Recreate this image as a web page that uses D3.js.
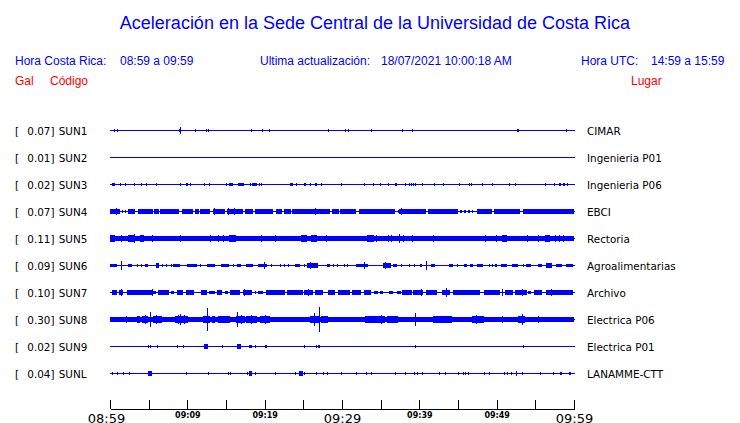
<!DOCTYPE html>
<html>
<head>
<meta charset="utf-8">
<script src="https://cdn.jsdelivr.net/npm/d3@7"></script>
<style>
  html, body { margin: 0; padding: 0; background: #fff; }
  svg { display: block; }
</style>
</head>
<body>
<div id="chart"></div>
<script>
// ---------- data ----------
const title = "Aceleración en la Sede Central de la Universidad de Costa Rica";
const localRange = "08:59 a 09:59";
const utcRange = "14:59 a 15:59";
const updated = "18/07/2021 10:00:18 AM";

const codes  = ["SUN1","SUN2","SUN3","SUN4","SUN5","SUN6","SUN7","SUN8","SUN9","SUNL"];
const peaks  = [0.07, 0.01, 0.02, 0.07, 0.11, 0.09, 0.10, 0.30, 0.02, 0.04];
const places = ["CIMAR","Ingenieria P01","Ingenieria P06","EBCI","Rectoria",
                "Agroalimentarias","Archivo","Electrica P06","Electrica P01","LANAMME-CTT"];

const tickMinutes = [0,5,10,15,20,25,30,35,40,45,50,55,60];
const tickLabels  = ["08:59","","09:09","","09:19","","09:29","","09:39","","09:49","","09:59"];

// envelope segments per station: [start minute, end minute, half amplitude (Gal)]
const sun1 = [[0.5,0.6,0.03],[0.85,0.95,0.03],[8.9,9.2,0.03],[9.05,9.05,0.08],[11.05,11.1,0.035],[12.4,12.45,0.03],[12.65,12.7,0.03],
  [18.2,18.2,0.02],[19.6,19.6,0.02],[20.5,20.5,0.02],[28.2,28.2,0.03],[30.45,30.5,0.03],[30.75,30.8,0.03],
  [33.8,33.8,0.03],[37.7,37.7,0.03],[39.1,39.1,0.03],[52.65,52.9,0.03],[59.0,59.0,0.02]];
const sun2 = [];
const sun3 = [[0.2,0.6,0.03],[1.3,1.3,0.025],[2.0,2.0,0.02],[3.05,3.2,0.03],[4.05,4.05,0.02],
  [4.6,4.6,0.02],[6.0,6.0,0.02],[9.1,9.1,0.025],[9.8,10.1,0.035],[10.4,10.4,0.02],[12.1,12.1,0.02],
  [12.85,12.85,0.02],[14.95,14.95,0.025],[15.4,15.9,0.03],[16.6,17.3,0.035],[18.05,18.05,0.025],
  [18.35,18.95,0.03],[19.25,19.25,0.025],[19.55,19.55,0.025],[23.3,23.6,0.025],[24.1,24.1,0.02],
  [25.1,25.4,0.03],[25.8,25.8,0.02],[26.55,26.55,0.025],[26.7,26.7,0.025],[27.25,27.25,0.025],
  [29.9,29.9,0.02],[32.9,32.9,0.02],[34.05,34.05,0.02],[34.9,35.1,0.025],[35.9,35.9,0.02],
  [36.9,37.1,0.025],[38.2,38.2,0.02],[38.6,38.6,0.025],[38.9,38.9,0.025],[39.15,39.3,0.03],
  [39.5,39.5,0.025],[40.4,40.4,0.025],[41.9,41.9,0.02],[43.1,43.1,0.025],[45.1,45.1,0.025],
  [46.4,46.4,0.025],[46.7,46.7,0.025],[48.1,48.1,0.02],[49.4,49.4,0.02],[51.6,51.6,0.025],
  [52.4,52.4,0.02],[56.2,56.2,0.025],[57.4,57.4,0.02],[58.1,58.3,0.025],[58.6,58.9,0.03],[59.1,59.2,0.025]];
const sun4 = [[0,1.3,0.036],[0.78,0.78,0.06],[1.55,1.55,0.03],[2.0,2.0,0.03],[2.3,3.2,0.036],
  [3.6,5.6,0.036],[5.7,6.4,0.036],[6.5,8.9,0.036],[9.3,10.7,0.036],[11.0,11.5,0.036],[11.7,12.9,0.036],
  [13.3,14.9,0.036],[13.45,13.45,0.06],[15.1,16.1,0.036],[15.3,15.3,0.07],[16.05,16.05,0.06],
  [16.2,17.2,0.036],[17.5,18.45,0.036],[18.75,21.1,0.036],[21.45,22.25,0.036],[22.5,23.35,0.036],
  [23.5,28.45,0.036],[26.5,26.5,0.075],[28.65,29.55,0.036],[29.8,31.8,0.036],[32.2,36.85,0.036],
  [33.8,33.8,0.055],[37.2,37.2,0.03],[37.4,40.9,0.036],[37.6,37.6,0.06],[41.1,45.0,0.036],
  [45.3,45.5,0.03],[45.8,46.0,0.03],[46.3,46.5,0.03],[46.8,46.9,0.03],[47.5,49.4,0.036],
  [49.7,53.0,0.036],[53.4,60,0.036],[56.0,56.0,0.055]];
const sun5 = [[0,60,0.045],[0,0.65,0.065],[1.4,1.4,0.07],[2.35,3.25,0.065],[3.1,3.1,0.1],[3.9,4.45,0.065],
  [5.4,5.4,0.07],[9.05,9.05,0.06],[12.9,12.9,0.06],[14.0,14.0,0.06],[14.6,14.6,0.06],[15.4,16.3,0.07],
  [19.55,19.55,0.08],[21.4,21.4,0.06],[24.7,25.45,0.065],[26.0,26.8,0.07],[26.3,26.3,0.08],[27.9,27.9,0.06],
  [33.2,34.2,0.07],[34.4,34.4,0.06],[35.9,35.9,0.06],[36.4,36.4,0.06],[37.4,37.4,0.1],[37.9,37.9,0.06],
  [39.1,39.1,0.06],[41.8,41.8,0.06],[48.5,48.5,0.06],[49.95,49.95,0.06],[50.7,51.3,0.06],
  [53.9,53.9,0.06],[55.4,55.4,0.06],[56.3,56.9,0.06],[57.5,57.5,0.07],[58.0,58.0,0.06],[58.6,58.6,0.06]];
const sun6 = [[0,0.85,0.03],[1.4,1.4,0.1],[2.3,2.9,0.035],[3.45,3.45,0.03],[4.0,4.0,0.03],
  [4.5,4.95,0.035],[6.0,6.35,0.04],[6.15,6.15,0.055],[6.7,6.9,0.03],[7.3,7.3,0.025],[7.85,7.85,0.025],[8.2,9.05,0.03],
  [10.0,11.2,0.035],[11.7,11.7,0.03],[12.6,13.6,0.035],[14.3,15.4,0.03],[15.85,15.85,0.025],
  [16.4,16.95,0.035],[17.6,18.55,0.035],[19.2,20.25,0.035],[19.95,19.95,0.06],[20.8,20.8,0.03],
  [22.0,22.0,0.03],[22.5,22.5,0.025],[23.05,23.05,0.03],[23.9,24.55,0.035],[25.1,25.1,0.03],
  [25.5,26.95,0.04],[25.85,25.85,0.06],[28.0,28.45,0.035],[28.9,28.9,0.03],[29.4,29.4,0.025],
  [30.2,30.2,0.025],[30.7,30.7,0.03],[31.8,33.4,0.035],[32.9,32.9,0.06],[35.3,36.3,0.04],
  [35.6,35.6,0.06],[36.6,37.1,0.03],[37.6,37.6,0.03],[38.6,38.6,0.03],[39.3,39.3,0.03],
  [40.1,40.4,0.035],[40.85,40.85,0.085],[41.5,42.0,0.035],[43.8,44.4,0.035],[44.9,44.9,0.03],
  [45.8,46.1,0.03],[46.5,47.0,0.03],[47.4,48.2,0.035],[49.0,49.0,0.03],[49.45,49.45,0.025],
  [49.8,50.0,0.03],[50.5,51.3,0.035],[51.95,52.8,0.035],[53.4,53.4,0.03],[53.8,54.4,0.035],
  [55.3,55.8,0.03],[56.4,57.2,0.04],[57.7,58.4,0.035],[59.0,59.9,0.035]];
const sun7 = [[0.2,0.85,0.036],[1.1,1.65,0.036],[1.4,1.4,0.06],[2.15,5.6,0.036],[5.4,5.4,0.06],
  [5.6,5.95,0.03],[6.25,7.65,0.036],[7.9,8.3,0.03],[8.7,9.5,0.036],[9.8,10.8,0.036],[11.75,12.5,0.036],
  [12.85,13.6,0.03],[13.8,14.45,0.036],[14.85,15.3,0.03],[15.5,16.8,0.036],[17.15,18.3,0.036],
  [17.3,17.3,0.06],[18.75,18.75,0.03],[19.2,19.8,0.03],[20.2,22.6,0.036],[22.85,25.0,0.036],
  [25.1,26.3,0.036],[25.65,25.65,0.06],[26.5,27.6,0.036],[28.25,29.1,0.036],[29.5,31.0,0.036],
  [31.25,32.5,0.036],[32.85,33.8,0.036],[34.2,34.6,0.03],[34.9,35.35,0.03],[36.1,36.6,0.03],
  [37.1,37.6,0.03],[37.8,39.0,0.036],[39.2,40.5,0.036],[40.2,40.2,0.06],[40.85,42.25,0.036],
  [42.9,44.0,0.036],[43.45,43.45,0.085],[44.4,47.85,0.036],[48.3,50.4,0.036],[49.1,49.1,0.055],
  [50.7,50.7,0.06],[51.05,52.15,0.036],[52.35,53.9,0.036],[53.3,53.3,0.07],[54.1,54.5,0.03],
  [54.85,55.8,0.036],[56.4,59.9,0.036],[57.0,57.0,0.06]];
const sun8 = [[0,60,0.04],[0,0.65,0.055],[1.1,1.7,0.055],[2.05,2.05,0.07],[2.35,2.6,0.05],
  [3.45,3.9,0.06],[4.1,4.95,0.07],[4.5,4.5,0.095],[5.2,5.2,0.16],[5.6,6.7,0.065],[6.0,6.0,0.09],[7.1,7.55,0.05],
  [8.4,10.1,0.075],[8.8,8.8,0.1],[9.05,9.05,0.12],[9.6,9.6,0.1],[10.35,11.85,0.05],[12.05,12.95,0.06],
  [12.6,12.6,0.26],[13.15,13.6,0.06],[14.0,15.5,0.06],[14.6,14.6,0.08],[15.7,15.95,0.055],
  [16.3,17.45,0.075],[16.4,16.4,0.17],[16.9,16.9,0.1],[17.65,18.95,0.065],[18.2,18.2,0.09],
  [19.4,20.7,0.065],[20.0,20.0,0.09],[22.6,23.3,0.055],[24.55,25.5,0.055],[25.85,27.15,0.065],
  [26.4,26.4,0.15],[27.0,27.0,0.29],[27.25,28.25,0.06],[29.1,29.5,0.05],[33.0,34.7,0.06],
  [34.7,35.6,0.065],[35.1,35.1,0.085],[35.8,37.3,0.06],[38.6,40.95,0.055],[39.5,39.5,0.14],
  [41.8,44.2,0.065],[42.7,42.7,0.08],[46.8,48.3,0.065],[47.3,47.3,0.09],[48.7,49.6,0.055],
  [50.7,50.7,0.06],[52.8,53.7,0.06],[53.3,53.3,0.12],[55.3,55.3,0.08],
  [56.7,57.35,0.05],[58.4,59.9,0.05]];
const sun9 = [[4.95,4.95,0.03],[5.15,5.15,0.03],[6.05,6.05,0.02],[8.7,8.7,0.03],[9.45,9.45,0.03],
  [12.2,12.65,0.04],[14.45,14.45,0.02],[16.4,17.0,0.04],[17.95,18.3,0.035],[18.75,18.75,0.025],
  [20.1,20.3,0.025],[25.1,25.1,0.02],[26.6,26.6,0.03],[26.95,27.1,0.035],[39.5,39.5,0.02],[53.45,53.45,0.02]];
const sunl = [[0.3,0.3,0.03],[0.95,0.95,0.02],[1.65,1.65,0.03],[2.5,2.5,0.03],[4.95,5.4,0.055],
  [9.8,9.8,0.03],[12.7,12.7,0.02],[15.2,15.2,0.02],[15.5,15.5,0.02],[17.75,17.75,0.03],[18.0,18.4,0.04],
  [18.75,18.75,0.025],[21.4,21.4,0.03],[23.9,23.9,0.025],[24.5,24.9,0.04],[25.1,25.1,0.025],
  [26.7,26.7,0.025],[27.5,27.5,0.03],[28.0,28.0,0.025],[29.9,29.9,0.025],[31.8,31.8,0.02],
  [33.1,33.1,0.02],[33.7,33.7,0.02],[36.8,36.8,0.03],[38.2,38.2,0.02],[39.3,39.3,0.03],[39.7,39.7,0.02],
  [40.4,40.4,0.02],[42.6,42.6,0.02],[43.35,43.35,0.03],[45.0,45.0,0.03],[45.6,45.6,0.025],
  [45.9,45.9,0.025],[46.3,46.3,0.025],[48.4,48.4,0.025],[49.0,49.0,0.025],[50.9,50.9,0.025],
  [51.4,51.4,0.025],[51.8,51.8,0.025],[52.45,52.6,0.045],[53.3,53.3,0.025],[55.65,55.65,0.025],
  [57.3,57.3,0.025],[58.2,58.5,0.03],[59.3,59.3,0.025],[59.5,59.5,0.025]];
const traces = [sun1, sun2, sun3, sun4, sun5, sun6, sun7, sun8, sun9, sunl];

// ---------- drawing ----------
const W = 740, H = 423;
const BLUE = "#0000ff", RED = "#ff0000";
const sans = "'Liberation Sans', Arial, Helvetica, sans-serif";
const deja = "'DejaVu Sans', Verdana, sans-serif";

const svg = d3.select("#chart").append("svg").attr("width", W).attr("height", H);

const x = d3.scaleLinear().domain([0, 60]).range([110, 574]);
const row = d3.scaleBand().domain(codes).range([116.5, 386.5]);   // step 27
const amp = d3.scaleLinear().domain([0, 0.3]).range([0, 12.6]);

// header
svg.append("text").attr("x", 375).attr("y", 29).attr("text-anchor", "middle")
  .style("font-family", sans).style("font-size", "18px").attr("fill", BLUE).text(title);

const hdr = [
  {x: 15,  y: 64.5, t: "Hora Costa Rica:", c: BLUE},
  {x: 120, y: 64.5, t: localRange, c: BLUE},
  {x: 260, y: 64.5, t: "Ultima actualización:", c: BLUE},
  {x: 381, y: 64.5, t: updated, c: BLUE},
  {x: 581, y: 64.5, t: "Hora UTC:", c: BLUE},
  {x: 651, y: 64.5, t: utcRange, c: BLUE},
  {x: 15,  y: 84.5, t: "Gal", c: RED},
  {x: 50,  y: 84.5, t: "Código", c: RED},
  {x: 631, y: 84.5, t: "Lugar", c: RED}
];
svg.append("g").selectAll("text").data(hdr).join("text")
  .attr("x", d => d.x).attr("y", d => d.y).attr("fill", d => d.c)
  .style("font-family", sans).style("font-size", "12px").text(d => d.t);

// station rows
const rows = svg.append("g").selectAll("g").data(codes).join("g")
  .attr("transform", d => `translate(0,${Math.round(row(d) + row.bandwidth() / 2)})`);

rows.append("text").attr("x", 15).attr("y", 4.5)
  .style("font-family", deja).style("font-size", "10.4px").attr("fill", "#000").text("[");
rows.append("text").attr("x", 27.3).attr("y", 4.5)
  .style("font-family", deja).style("font-size", "10.4px").attr("fill", "#000")
  .text((d, i) => peaks[i].toFixed(2) + "]");
rows.append("text").attr("x", 58.7).attr("y", 4.5)
  .style("font-family", deja).style("font-size", "10.4px").attr("fill", "#000").text(d => d);
rows.append("text").attr("x", 587).attr("y", 4.5)
  .style("font-family", deja).style("font-size", "10.4px").attr("fill", "#000")
  .text((d, i) => places[i]);

// baseline of each trace
rows.append("rect").attr("x", x(0)).attr("y", 0).attr("width", x(60) - x(0) + 1).attr("height", 1)
  .attr("fill", BLUE).attr("shape-rendering", "crispEdges");

// envelope segments
rows.each(function(d, i) {
  d3.select(this).selectAll("rect.seg").data(traces[i]).join("rect").attr("class", "seg")
    .attr("x", s => x(s[0]))
    .attr("width", s => Math.max(1, x(s[1]) - x(s[0])))
    .attr("y", s => -amp(s[2]))
    .attr("height", s => 2 * amp(s[2]) + 1)
    .attr("fill", BLUE).attr("shape-rendering", "crispEdges");
});

// time axis
const axis = d3.axisBottom(x).tickValues(tickMinutes)
  .tickFormat((d, i) => tickLabels[i]).tickSizeInner(-9).tickSizeOuter(0);
const gx = svg.append("g").attr("transform", "translate(0,409)").call(axis);
gx.select(".domain").attr("stroke", "#000").attr("shape-rendering", "crispEdges");
gx.selectAll(".tick line").attr("stroke", "#000").attr("shape-rendering", "crispEdges");
gx.selectAll(".tick text").attr("fill", "#000").attr("dy", null)
  .each(function(d, i) {
    const big = (d % 30 === 0);
    d3.select(this)
      .attr("y", big ? 14.2 : 9.3)
      .attr("dx", d === 0 ? -4 : 0)
      .style("font-family", deja)
      .style("font-size", big ? "13px" : "8px")
      .style("font-weight", big ? "normal" : "bold");
  });
</script>
</body>
</html>
